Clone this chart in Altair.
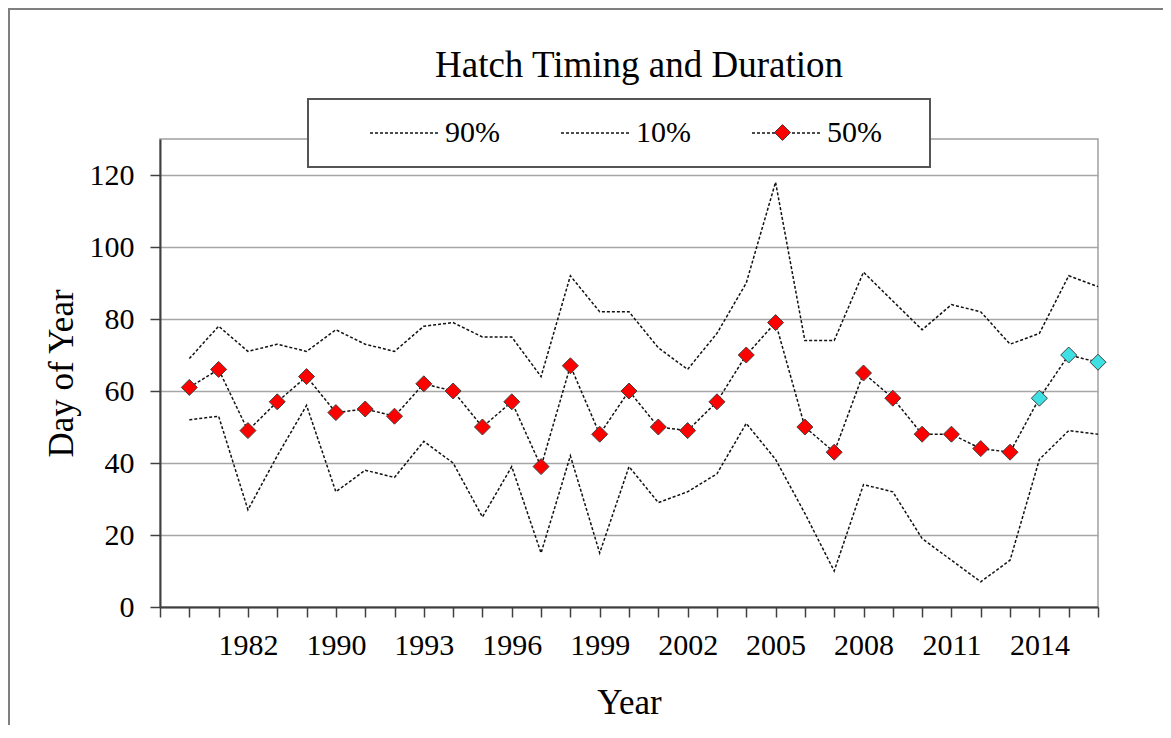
import json
import altair as alt
import pandas as pd

# ---------------- data ----------------
# category axis (first category carries no data, only every third label is shown)
years = ["1979", "1980", "1981", "1982", "1988", "1989",
         "1990", "1991", "1992", "1993", "1994", "1995", "1996", "1997", "1998",
         "1999", "2000", "2001", "2002", "2003", "2004", "2005", "2006", "2007",
         "2008", "2009", "2010", "2011", "2012", "2013", "2014", "2015", "2016"]
data_years = years[1:]
shown_labels = ["1982", "1990", "1993", "1996", "1999", "2002", "2005", "2008", "2011", "2014"]

p90 = [69, 78, 71, 73, 71, 77, 73, 71, 78, 79,
       75, 75, 64, 92, 82, 82, 72, 66, 76, 90, 118,
       74, 74, 93, 85, 77, 84, 82, 73, 76, 92, 89]
p10 = [52, 53, 27, 42, 56, 32, 38, 36, 46, 40,
       25, 39, 15, 42, 15, 39, 29, 32, 37, 51, 41,
       26, 10, 34, 32, 19, 13, 7, 13, 41, 49, 48]
p50 = [61, 66, 49, 57, 64, 54, 55, 53, 62, 60,
       50, 57, 39, 67, 48, 60, 50, 49, 57, 70, 79,
       50, 43, 65, 58, 48, 48, 44, 43, 58, 70, 68]
recent_years = ["2014", "2015", "2016"]

series_names = ["90%", "10%", "50%"]
series_values = {"90%": p90, "10%": p10, "50%": p50}

rows = []
for s in series_names:
    for yr, v in zip(data_years, series_values[s]):
        rows.append({"year": yr, "series": s, "value": v})
df_lines = pd.DataFrame(rows)

df_mid = pd.DataFrame({
    "year": data_years,
    "value": p50,
    "status": ["recent" if y in recent_years else "final" for y in data_years],
    "marker": ["50%"] * len(data_years),
})

# ---------------- chart ----------------
SERIF = "Liberation Serif"
W, H = 938, 468

label_expr = "indexof(" + json.dumps(shown_labels) + ", datum.label) >= 0 ? datum.label : ''"

x_enc = alt.X(
    "year:O",
    scale=alt.Scale(type="point", domain=years, padding=0),
    axis=alt.Axis(labelExpr=label_expr, labelAngle=0, labelOverlap=False,
                  labelFlush=False, grid=False, labelPadding=13, titlePadding=25),
    title="Year",
)
y_enc = alt.Y(
    "value:Q",
    scale=alt.Scale(domain=[0, 130], nice=False, zero=True),
    axis=alt.Axis(values=[0, 20, 40, 60, 80, 100, 120], grid=True,
                  labelPadding=16, titlePadding=10),
    title="Day of Year",
)

lines = alt.Chart(df_lines).mark_line(strokeDash=[3, 2], strokeWidth=1.5).encode(
    x=x_enc,
    y=y_enc,
    color=alt.Color(
        "series:N",
        scale=alt.Scale(domain=series_names, range=["#111111", "#111111", "#111111"]),
        legend=alt.Legend(
            orient="none", legendX=209, legendY=-41, direction="horizontal",
            title=None, symbolType="stroke", symbolSize=4624, symbolStrokeWidth=1.5,
            symbolDash=[3, 2], symbolStrokeColor="#111111",
            labelFont=SERIF, labelFontSize=30, labelColor="black", labelOffset=6,
            columnPadding=58, padding=0, zindex=1, labelLimit=200,
        ),
    ),
)

points = alt.Chart(df_mid).mark_point(
    filled=True, size=256, stroke="#404040", strokeWidth=1, opacity=1
).encode(
    x=x_enc,
    y=y_enc,
    fill=alt.Fill("status:N",
                  scale=alt.Scale(domain=["final", "recent"], range=["#ff0000", "#3fe0e4"]),
                  legend=None),
    shape=alt.Shape(
        "marker:N",
        scale=alt.Scale(domain=["50%"], range=["diamond"]),
        legend=alt.Legend(
            orient="none", legendX=614, legendY=-15, title=None,
            symbolSize=256, symbolFillColor="#ff0000", symbolStrokeColor="#404040",
            symbolStrokeWidth=1, labelExpr="''", labelFontSize=1, padding=0, zindex=2,
        ),
    ),
)

deco = pd.DataFrame({"k": [0]})
outer_frame = alt.Chart(deco).mark_rect(
    fill="transparent", stroke="#7f7f7f", strokeWidth=2
).encode(x=alt.value(-151), x2=alt.value(W + 120), y=alt.value(-130), y2=alt.value(H + 160))

legend_box = alt.Chart(deco).mark_rect(
    fill="white", stroke="#555555", strokeWidth=2
).encode(x=alt.value(148), x2=alt.value(770), y=alt.value(-40), y2=alt.value(28))

chart = alt.layer(outer_frame, lines, points, legend_box).properties(
    width=W,
    height=H,
    autosize=alt.AutoSizeParams(type="none"),
    padding={"left": 152, "top": 131, "right": 65, "bottom": 118},
    title=alt.TitleParams(
        "Hatch Timing and Duration", font=SERIF, fontSize=37, fontWeight="normal",
        color="black", anchor="middle", dx=10, dy=87, offset=10,
    ),
).configure_view(
    stroke="#a0a0a0", strokeWidth=1.5
).configure_axis(
    labelFont=SERIF, labelFontSize=30, labelColor="black",
    titleFont=SERIF, titleFontSize=35, titleFontWeight="normal", titleColor="black",
    domainColor="#404040", domainWidth=2, tickColor="#404040", tickWidth=1.5, tickSize=10,
    gridColor="#a6a6a6", gridWidth=1.5,
).configure_legend(
    labelFont=SERIF, labelColor="black"
)

chart.save("out.html", embed_options={"renderer": "svg", "actions": False})
